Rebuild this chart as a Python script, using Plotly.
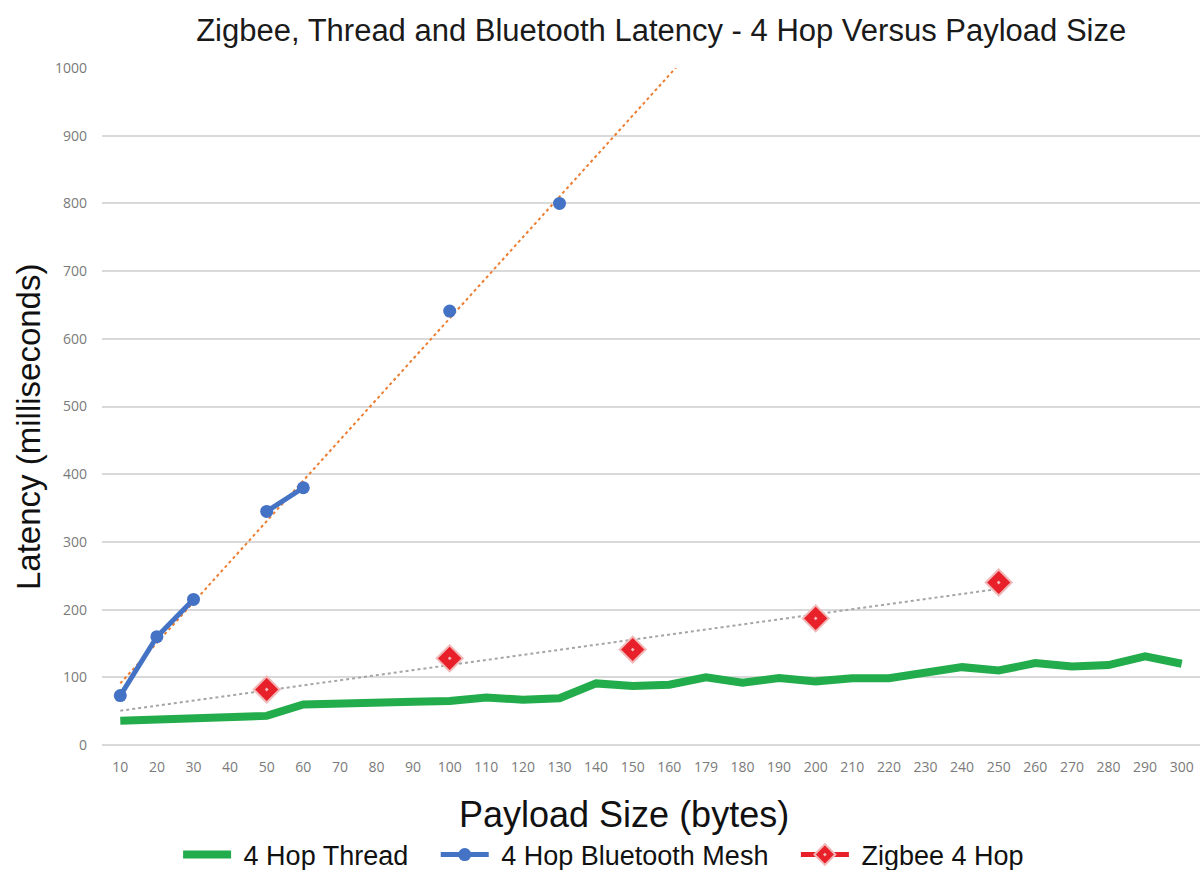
import numpy as np
import plotly.graph_objects as go

# Payload sizes (bytes) as printed on the category axis
payload_labels = ["10", "20", "30", "40", "50", "60", "70", "80", "90", "100",
                  "110", "120", "130", "140", "150", "160", "179", "180", "190", "200",
                  "210", "220", "230", "240", "250", "260", "270", "280", "290", "300"]

# Latency in milliseconds (None = not measured)
thread_4hop = [36, 37.5, 41, 42, 43, 60, 62, 62, 64, 65,
               70, 67, 69, 91, 87, 89, 100, 92, 99, 94,
               98.5, 98.5, 107, 115, 110, 121, 116, 118, 131, 120]

bt_mesh_4hop = [73, 160, 215, None, 345, 380, None, None, None, 641,
                None, None, 800, None, None, None, None, None, None, None,
                None, None, None, None, None, None, None, None, None, None]

zigbee_4hop = [None, None, None, None, 82, None, None, None, None, 128,
               None, None, None, None, 141, None, None, None, None, 187,
               None, None, None, None, 240, None, None, None, None, None]

idx = np.arange(len(payload_labels))
LEAD = "\u00a0"                  # gap between legend symbol and label
PAD = "\u00a0\u00a0\u00a0"       # extra room between legend entries


def linear_trend(values):
    x = np.array([i for i, v in enumerate(values) if v is not None], dtype=float)
    y = np.array([v for v in values if v is not None], dtype=float)
    slope, intercept = np.polyfit(x, y, 1)
    return slope, intercept


fig = go.Figure()

# Linear trendlines (least-squares fit on category position), drawn first
bt_m, bt_b = linear_trend(bt_mesh_4hop)
bt_x = np.array([0, len(payload_labels) - 1], dtype=float)
fig.add_trace(go.Scatter(
    x=bt_x, y=bt_m * bt_x + bt_b, mode="lines", showlegend=False,
    hoverinfo="skip", line=dict(color="#ed7d31", width=2, dash="dot")))

zb_m, zb_b = linear_trend(zigbee_4hop)
zb_last = max(i for i, v in enumerate(zigbee_4hop) if v is not None)
zb_x = np.array([0, zb_last], dtype=float)
fig.add_trace(go.Scatter(
    x=zb_x, y=zb_m * zb_x + zb_b, mode="lines", showlegend=False,
    hoverinfo="skip", line=dict(color="#a5a5a5", width=2, dash="dot")))

fig.add_trace(go.Scatter(
    x=idx, y=thread_4hop, name=LEAD + "4 Hop Thread" + PAD, mode="lines",
    line=dict(color="#22ac4b", width=8)))

fig.add_trace(go.Scatter(
    x=idx, y=bt_mesh_4hop, name=LEAD + "4 Hop Bluetooth Mesh" + PAD, mode="lines+markers",
    connectgaps=False,
    line=dict(color="#4472c4", width=5),
    marker=dict(color="#4472c4", size=13, symbol="circle")))

fig.add_trace(go.Scatter(
    x=idx, y=zigbee_4hop, name=LEAD + "Zigbee 4 Hop", mode="lines+markers",
    connectgaps=False,
    line=dict(color="#e8202a", width=5),
    marker=dict(color="#e8202a", size=20, symbol="diamond-dot",
                line=dict(color="#f0b8b8", width=2))))

fig.update_layout(
    width=1200, height=870,
    paper_bgcolor="white", plot_bgcolor="white",
    margin=dict(l=102, r=0, t=68, b=125),
    title=dict(text="Zigbee, Thread and Bluetooth Latency - 4 Hop Versus Payload Size",
               x=0.551, xanchor="center", y=1 - 30 / 870, yref="container", yanchor="middle",
               font=dict(family="Liberation Sans, Arial", size=31, color="#1a1a1a")),
    legend=dict(orientation="h", xref="container", yref="container",
                x=0.503, xanchor="center", y=1 - 855 / 870, yanchor="middle",
                font=dict(family="Liberation Sans, Arial", size=27, color="#111111"),
                itemwidth=48, traceorder="normal"),
    showlegend=True,
    annotations=[
        dict(text="Payload Size (bytes)", xref="paper", yref="paper",
             x=(624 - 102) / 1098, y=(745 - 815) / 677, xanchor="center", yanchor="middle",
             showarrow=False,
             font=dict(family="Liberation Sans, Arial", size=36, color="#111111")),
        dict(text="Latency (milliseconds)", xref="paper", yref="paper", textangle=-90,
             x=(28 - 102) / 1098, y=(745 - 427) / 677, xanchor="center", yanchor="middle",
             showarrow=False,
             font=dict(family="Liberation Sans, Arial", size=33, color="#111111")),
    ],
)

fig.update_xaxes(
    range=[-0.5, len(payload_labels) - 0.5],
    tickmode="array", tickvals=idx, ticktext=payload_labels,
    tickfont=dict(family="Open Sans", size=14, color="#7a7a7a"),
    showgrid=False, zeroline=False, showline=False, ticks="",
    ticklabelstandoff=12,
)

fig.update_yaxes(
    range=[0, 1000], tickmode="linear", tick0=0, dtick=100,
    tickfont=dict(family="Open Sans", size=14, color="#7a7a7a"),
    showgrid=True, gridcolor="#d9d9d9", gridwidth=1.5,
    zeroline=True, zerolinecolor="#d9d9d9", zerolinewidth=1.5,
    showline=False, ticks="", ticklabelstandoff=14,
)

fig.write_html("out.html")
